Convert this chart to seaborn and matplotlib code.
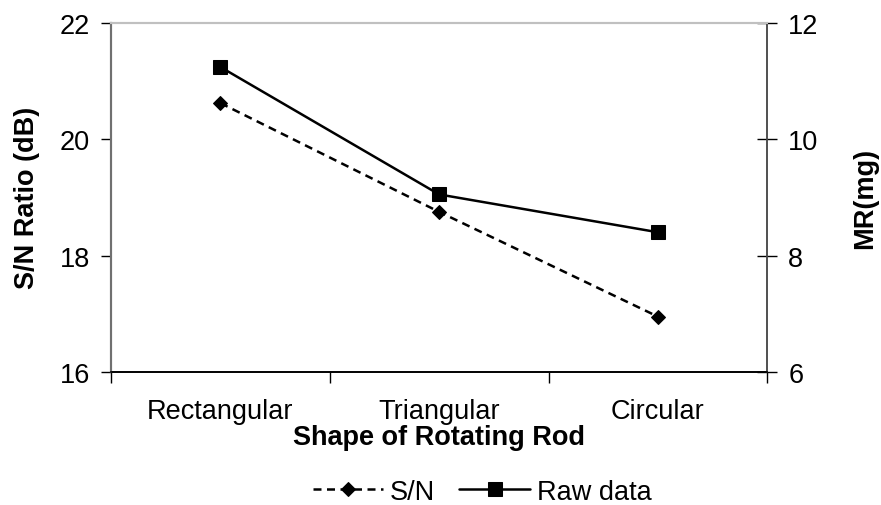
import matplotlib
matplotlib.use("Agg")
import matplotlib.pyplot as plt
import seaborn as sns
import pandas as pd

# Rod shapes and measured responses
shapes = ["Rectangular", "Triangular", "Circular"]
sn_ratio = [20.62, 18.75, 16.95]      # S/N ratio, dB (left axis)
raw_mr = [11.24, 9.05, 8.40]          # material removal, mg (right axis)
left_ticks = [16, 18, 20, 22]
right_ticks = [6, 8, 10, 12]

FS = 19.5

sns.set_theme(style="white")
plt.rcParams["font.family"] = ["Liberation Sans", "DejaVu Sans"]
plt.rcParams["font.size"] = FS
plt.rcParams["text.color"] = "black"
plt.rcParams["axes.labelcolor"] = "black"
plt.rcParams["xtick.color"] = "black"
plt.rcParams["ytick.color"] = "black"

df = pd.DataFrame({"pos": range(len(shapes)), "shape": shapes,
                   "sn": sn_ratio, "mr": raw_mr})

fig = plt.figure(figsize=(8.81, 5.06), dpi=100)
ax = fig.add_axes([0.126, 0.263, 0.745, 0.690])
ax2 = ax.twinx()

sns.lineplot(data=df, x="pos", y="sn", ax=ax, color="black",
             linestyle="--", dashes=False, linewidth=1.8, marker="D",
             markersize=6.8, markeredgecolor="black", label="S/N", legend=False)
ax.lines[-1].set_dashes((3.2, 2.2))
sns.lineplot(data=df, x="pos", y="mr", ax=ax2, color="black",
             linewidth=1.8, marker="s", markersize=10,
             markeredgecolor="black", label="Raw data", legend=False)

ax.set_xlim(-0.5, len(shapes) - 0.5)
ax.set_ylim(16, 22)
ax2.set_ylim(6, 12)
ax.set_yticks(left_ticks)
ax2.set_yticks(right_ticks)

# category labels centred, tick marks at category boundaries
ax.set_xticks(range(len(shapes)))
ax.set_xticklabels(shapes, fontsize=FS, color="black")
ax.set_xticks([i - 0.5 for i in range(len(shapes) + 1)], minor=True)
ax.tick_params(axis="x", which="major", length=0, pad=19)
ax.tick_params(axis="x", which="minor", length=8, width=1, color="black",
               direction="out", bottom=True)
ax.tick_params(axis="y", which="major", length=7, width=1, color="black",
               direction="out", left=True, pad=8, labelsize=FS,
               labelcolor="black")
ax2.tick_params(axis="y", which="major", length=14, width=1, color="black",
                direction="inout", right=True, pad=8, labelsize=FS,
                labelcolor="black")

ax.set_xlabel("Shape of Rotating Rod", fontsize=FS, fontweight="bold",
              labelpad=0, color="black")
ax.set_ylabel("S/N Ratio (dB)", fontsize=FS, fontweight="bold", labelpad=14,
              color="black")
ax2.set_ylabel("MR(mg)", fontsize=FS, fontweight="bold", labelpad=24,
               color="black")

for a in (ax, ax2):
    a.grid(False)
    a.spines["top"].set_color("#c0c0c0")
    a.spines["top"].set_linewidth(1.5)
    a.spines["left"].set_color("#707070")
    a.spines["left"].set_linewidth(1.5)
    a.spines["right"].set_color("#505050")
    a.spines["right"].set_linewidth(1.2)
    a.spines["bottom"].set_color("black")
    a.spines["bottom"].set_linewidth(1.2)
ax.set_facecolor("white")
ax2.patch.set_visible(False)

handles = ax.get_lines()[:1] + ax2.get_lines()[:1]
fig.legend(handles, ["S/N", "Raw data"], loc="center",
           bbox_to_anchor=(0.547, 0.026), ncol=2, frameon=False,
           fontsize=FS, handlelength=2.6, handletextpad=0.25,
           columnspacing=0.9)

fig.savefig("out.png", dpi=100, facecolor="white")
